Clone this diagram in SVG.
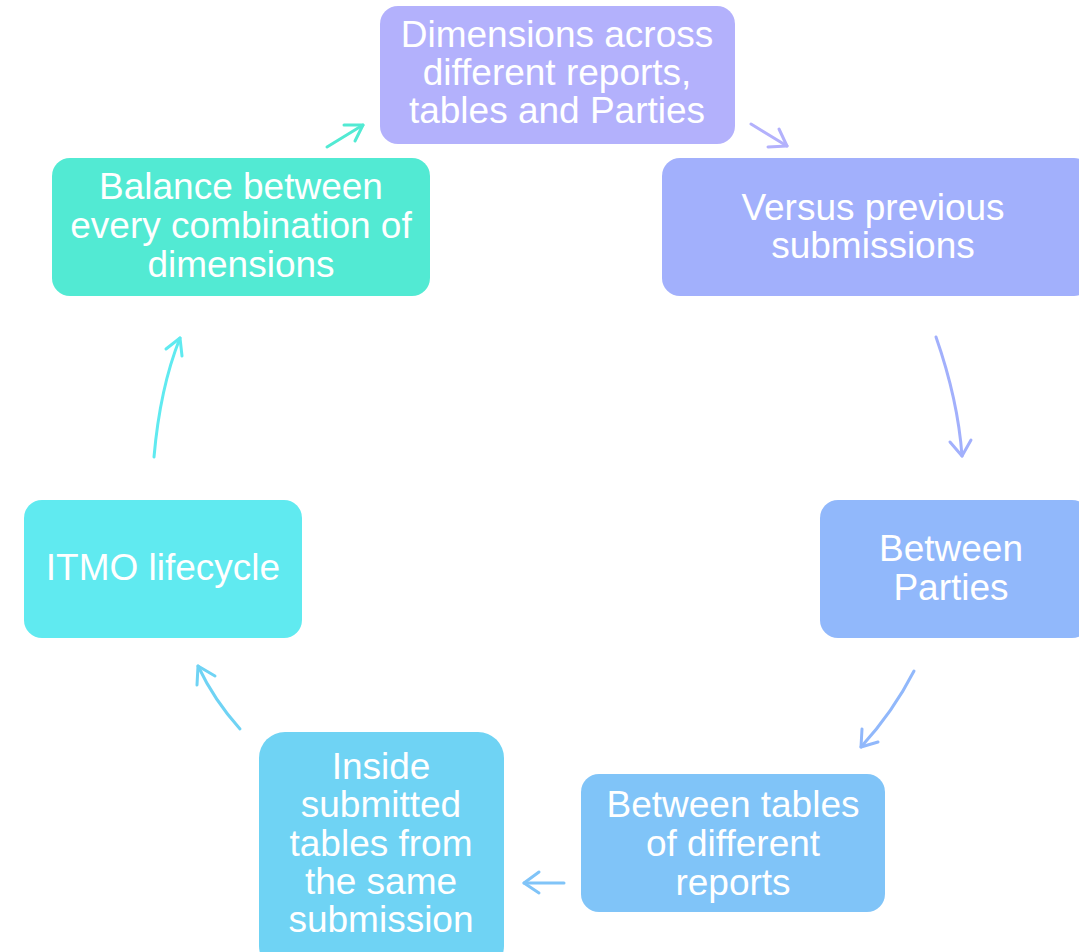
<svg xmlns="http://www.w3.org/2000/svg" width="1079" height="952" viewBox="0 0 1079 952">
<style>
.box{stroke:none}
.t{font-family:"Liberation Sans",Arial,sans-serif;font-size:37px;fill:#ffffff;text-anchor:middle}
.c{fill:none;stroke-width:3;stroke-linecap:round;stroke-linejoin:round}
</style>
<rect width="1079" height="952" fill="#ffffff"/>
<g id="connectors">
  <g stroke="#52EAD3" class="c"><path d="M327,147 L363,125"/><path d="M344,125 L363,125 L355,141"/></g>
  <g stroke="#B3B1FC" class="c"><path d="M751,124 L787,146"/><path d="M768,147 L787,146 L779,129"/></g>
  <g stroke="#A2B0FC" class="c"><path d="M936,337 Q958,400 962,456"/><path d="M950,442 L962,456 L971,440"/></g>
  <g stroke="#91B8FB" class="c"><path d="M914,671 Q893,712 861,747"/><path d="M862,729 L861,747 L878,742"/></g>
  <g stroke="#80C4F8" class="c"><path d="M564,883 L524,883"/><path d="M539,872 L524,883 L539,893"/></g>
  <g stroke="#6FD3F4" class="c"><path d="M240,729 Q214,700 198,666"/><path d="M197,685 L198,666 L215,676"/></g>
  <g stroke="#60EAF0" class="c"><path d="M154,457 Q160,388 180,338"/><path d="M166,349 L180,338 L182,356"/></g>
</g>
<g id="n1"><rect class="box" x="380" y="6" width="355" height="138" rx="18" fill="#B3B1FC"/>
<text class="t" x="557" y="47">Dimensions across</text><text class="t" x="557" y="85">different reports,</text><text class="t" x="557" y="123">tables and Parties</text></g>
<g id="n2"><rect class="box" x="662" y="158" width="430" height="138" rx="18" fill="#A2B0FC"/>
<text class="t" x="873" y="220">Versus previous</text><text class="t" x="873" y="258">submissions</text></g>
<g id="n3"><rect class="box" x="820" y="500" width="270" height="138" rx="18" fill="#91B8FB"/>
<text class="t" x="951" y="561">Between</text><text class="t" x="951" y="600">Parties</text></g>
<g id="n4"><rect class="box" x="581" y="774" width="304" height="138" rx="18" fill="#80C4F8"/>
<text class="t" x="733" y="817">Between tables</text><text class="t" x="733" y="856">of different</text><text class="t" x="733" y="895">reports</text></g>
<g id="n5"><rect class="box" x="259" y="732" width="245" height="240" rx="26" fill="#6FD3F4"/>
<text class="t" x="381" y="779">Inside</text><text class="t" x="381" y="817">submitted</text><text class="t" x="381" y="856">tables from</text><text class="t" x="381" y="894">the same</text><text class="t" x="381" y="932">submission</text></g>
<g id="n6"><rect class="box" x="24" y="500" width="278" height="138" rx="18" fill="#60EAF0"/>
<text class="t" x="163" y="580">ITMO lifecycle</text></g>
<g id="n7"><rect class="box" x="52" y="158" width="378" height="138" rx="18" fill="#52EAD3"/>
<text class="t" x="241" y="199">Balance between</text><text class="t" x="241" y="238">every combination of</text><text class="t" x="241" y="277">dimensions</text></g>
</svg>
